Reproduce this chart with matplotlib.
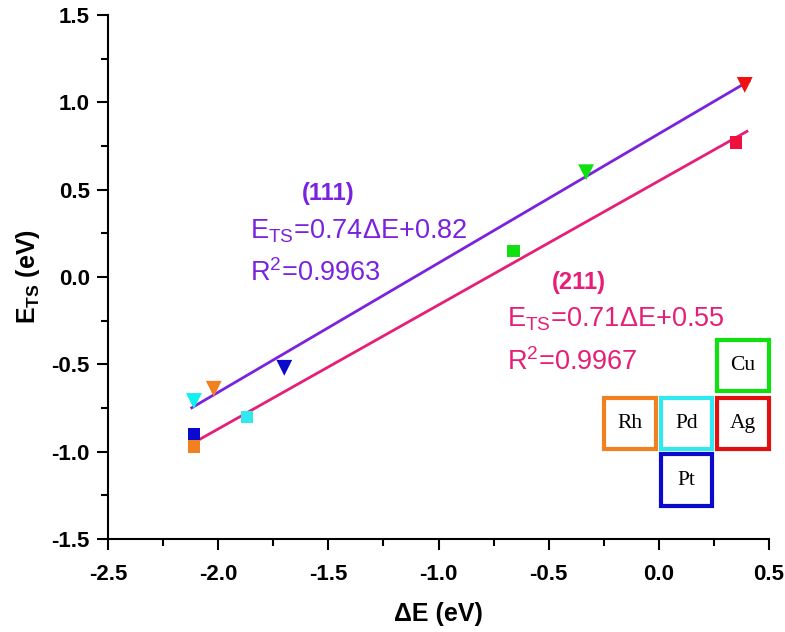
import matplotlib.pyplot as plt
from matplotlib.patches import Rectangle

# (111) surfaces: triangles
x111 = [-2.11, -2.02, -1.70, -0.33, 0.39]
y111 = [-0.71, -0.64, -0.52, 0.60, 1.10]
c111 = ['#10F0F0', '#F08020', '#0A0ACC', '#10E010', '#F01010']

# (211) surfaces: squares
x211 = [-2.11, -2.11, -1.87, -0.66, 0.35]
y211 = [-0.90, -0.97, -0.80, 0.15, 0.77]
c211 = ['#0A0ACC', '#F08020', '#30E8F0', '#10E010', '#F01040']

# linear fits
slope111, icpt111, r2_111 = 0.74, 0.82, 0.9963
slope211, icpt211, r2_211 = 0.71, 0.55, 0.9967
xfit111 = [-2.12, 0.41]
xfit211 = [-2.10, 0.40]

# metal legend tiles: name, lower-left corner (data coords), colour
metals = ['Cu', 'Rh', 'Pd', 'Ag', 'Pt']
tile_xy = [(0.255, -0.665), (-0.255, -0.995), (0.0, -0.995), (0.255, -0.995), (0.0, -1.32)]
tile_col = ['#10E010', '#F08020', '#30E8F0', '#E01010', '#0A0ACC']

purple = '#7A22DD'
pink = '#E61E78'

plt.rcParams['font.family'] = ['Liberation Sans', 'DejaVu Sans']
plt.rcParams['mathtext.fontset'] = 'custom'
plt.rcParams['mathtext.rm'] = 'Liberation Sans'
plt.rcParams['mathtext.it'] = 'Liberation Sans:italic'
plt.rcParams['mathtext.bf'] = 'Liberation Sans:bold'

fig = plt.figure(figsize=(7.85, 6.32), dpi=100)
ax = fig.add_axes([0.1376, 0.1472, 0.842, 0.829])

ax.plot(xfit111, [slope111 * x + icpt111 for x in xfit111], color=purple, lw=2, zorder=2)
ax.plot(xfit211, [slope211 * x + icpt211 for x in xfit211], color=pink, lw=2, zorder=2)

ax.scatter(x111, y111, marker='v', s=130, c=c111, linewidths=0, zorder=3)
ax.scatter(x211, y211, marker='s', s=80, c=c211, linewidths=0, zorder=3)

eq = 'E$_{\\mathregular{TS}}$=%.2f\u0394E+%.2f'
r2 = 'R$^{\\mathregular{2}}$=%.4f'

ax.text(-1.50, 0.441, '(111)', color=purple, fontsize=17, fontweight='bold', ha='center', va='baseline')
ax.text(-1.855, 0.223, eq % (slope111, icpt111), color=purple, fontsize=19.5, ha='left', va='baseline')
ax.text(-1.855, -0.023, r2 % r2_111, color=purple, fontsize=19.5, ha='left', va='baseline')

ax.text(-0.362, -0.069, '(211)', color=pink, fontsize=17, fontweight='bold', ha='center', va='baseline')
ax.text(-0.689, -0.286, eq % (slope211, icpt211), color=pink, fontsize=19.5, ha='left', va='baseline')
ax.text(-0.689, -0.532, r2 % r2_211, color=pink, fontsize=19.5, ha='left', va='baseline')

w, h = 0.235, 0.295
for name, (x0, y0), col in zip(metals, tile_xy, tile_col):
    ax.add_patch(Rectangle((x0 + 0.008, y0 + 0.01), w, h, facecolor='white',
                           edgecolor=col, lw=3, zorder=4, clip_on=False))
    ax.text(x0 + 0.008 + w / 2, y0 + 0.01 + h / 2, name, fontsize=15.5,
            family='Liberation Serif', ha='center', va='center', zorder=5)

ax.set_xlim(-2.5, 0.5)
ax.set_ylim(-1.5, 1.5)
ax.set_xticks([-2.5, -2.0, -1.5, -1.0, -0.5, 0.0, 0.5])
ax.set_yticks([-1.5, -1.0, -0.5, 0.0, 0.5, 1.0, 1.5])
ax.set_xticks([-2.25, -1.75, -1.25, -0.75, -0.25, 0.25], minor=True)
ax.set_yticks([-1.25, -0.75, -0.25, 0.25, 0.75, 1.25], minor=True)
ax.xaxis.set_major_formatter(plt.FormatStrFormatter('%.1f'))
ax.yaxis.set_major_formatter(plt.FormatStrFormatter('%.1f'))

for side in ['top', 'right']:
    ax.spines[side].set_visible(False)
for side in ['left', 'bottom']:
    ax.spines[side].set_linewidth(1.5)

ax.tick_params(which='major', direction='out', length=8, width=1.5, labelsize=16)
ax.tick_params(which='minor', direction='out', length=5, width=1.5)
ax.tick_params(axis='x', which='major', pad=10)
ax.tick_params(axis='y', which='major', pad=5)
for lab in ax.get_xticklabels() + ax.get_yticklabels():
    lab.set_fontweight('bold')

ax.set_xlabel('\u0394E (eV)', fontsize=18, fontweight='bold', labelpad=12)
ax.set_ylabel('E$_{\\mathbf{TS}}$ (eV)', fontsize=18, fontweight='bold', labelpad=7)

fig.savefig('out.png', dpi=100)
